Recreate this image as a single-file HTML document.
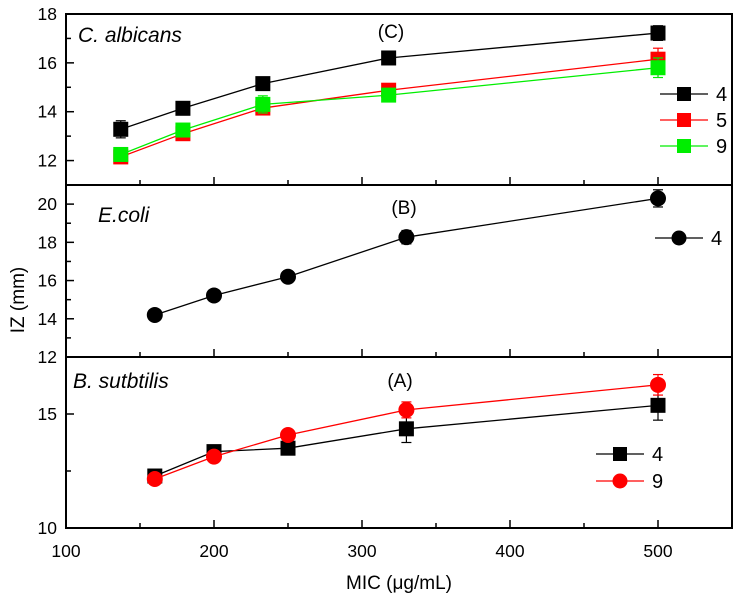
<!DOCTYPE html>
<html><head><meta charset="utf-8"><style>
html,body{margin:0;padding:0;background:#fff;}
svg{display:block;font-family:"Liberation Sans",Arial,sans-serif;}
</style></head><body>
<svg id="chart" width="736" height="600"></svg>
<script>
const xTicks=[100,200,300,400,500];
const cX=[137,179,233,318,500];
const c4=[13.28,14.14,15.15,16.2,17.22];
const c4err=[0.35,0.15,0.15,0.25,0.3];
const c5=[12.15,13.1,14.15,14.88,16.15];
const c5err=[0.2,0.15,0.15,0.2,0.45];
const c9=[12.25,13.25,14.3,14.68,15.8];
const c9err=[0.2,0.15,0.35,0.15,0.4];
const eX=[160,200,250,330,500];
const e4=[14.2,15.22,16.2,18.27,20.3];
const e4err=[0.1,0.1,0.1,0.35,0.45];
const bX=[160,200,250,330,500];
const b4=[12.28,13.35,13.5,14.35,15.38];
const b4err=[0.15,0.2,0.15,0.6,0.65];
const b9=[12.15,13.13,14.08,15.18,16.28];
const b9err=[0.1,0.1,0.15,0.35,0.45];
const topTicks=[12,14,16,18];
const midTicks=[12,14,16,18,20];
const botTicks=[10,15];

const NS="http://www.w3.org/2000/svg";
const svg=document.getElementById('chart');
function mk(t,a,p){const e=document.createElementNS(NS,t);for(const k in a)e.setAttribute(k,a[k]);(p||svg).appendChild(e);return e;}
const X0=66,X1=732;
const xs=v=>X0+(v-100)*(X1-X0)/450;
const panels=[
 {top:14,bot:185,min:11,max:18,ticks:topTicks,minor:1,name:'panel-c'},
 {top:185,bot:357,min:12,max:21,ticks:midTicks,minor:1,name:'panel-b'},
 {top:357,bot:528,min:10,max:17.5,ticks:botTicks,minor:2.5,name:'panel-a'}];
panels.forEach(p=>{p.y=v=>p.bot-(v-p.min)*(p.bot-p.top)/(p.max-p.min);});

panels.forEach((p,i)=>{
 const g=mk('g',{});
 
 
 mk('rect',{x:X0,y:p.top,width:X1-X0,height:p.bot-p.top,fill:'none',stroke:'#000','stroke-width':2},g);
 for(let v=p.min;v<=p.max+1e-6;v+=p.minor){
  const major=p.ticks.some(t=>Math.abs(t-v)<1e-6);
  mk('line',{x1:X0,x2:X0+(major?8:5),y1:p.y(v),y2:p.y(v),stroke:'#000','stroke-width':1.5},g);
 }
 p.ticks.forEach(t=>{
  const tx=mk('text',{x:57,y:p.y(t)+6,'text-anchor':'end','font-size':17.5},g);
  tx.textContent=t;
  
  
 });
 for(let v=150;v<=550;v+=50){
  const major=v%100===0;
  mk('line',{x1:xs(v),x2:xs(v),y1:p.bot,y2:p.bot-(major?8:5),stroke:'#000','stroke-width':1.5},g);
 }
});
xTicks.forEach(t=>{
 const tx=mk('text',{x:xs(t),y:557,'text-anchor':'middle','font-size':17.5});
 tx.textContent=t;
 
 
});

function series(p,xv,yv,ev,color,shape,name){
 const g=mk('g',{});
 
 
 mk('polyline',{points:xv.map((x,i)=>xs(x)+','+p.y(yv[i])).join(' '),fill:'none',stroke:color,'stroke-width':1.3},g);
 xv.forEach((x,i)=>{
  const cx=xs(x),cy=p.y(yv[i]),y1=p.y(yv[i]+ev[i]),y2=p.y(yv[i]-ev[i]);
  mk('line',{x1:cx,x2:cx,y1:y1,y2:y2,stroke:color==='#00ee00'?'#22aa22':color,'stroke-width':1.2},g);
  mk('line',{x1:cx-5,x2:cx+5,y1:y1,y2:y1,stroke:color,'stroke-width':1.2},g);
  mk('line',{x1:cx-5,x2:cx+5,y1:y2,y2:y2,stroke:color,'stroke-width':1.2},g);
  let m;
  if(shape==='sq') m=mk('rect',{x:cx-7.5,y:cy-7.5,width:15,height:15,fill:color},g);
  else m=mk('circle',{cx:cx,cy:cy,r:8,fill:color},g);
  
  
 });
}
const [pc,pb,pa]=panels;
series(pc,cX,c4,c4err,'#000','sq','c-series-4');
series(pc,cX,c5,c5err,'#ff0000','sq','c-series-5');
series(pc,cX,c9,c9err,'#00ee00','sq','c-series-9');
series(pb,eX,e4,e4err,'#000','ci','b-series-4');
series(pa,bX,b4,b4err,'#000','sq','a-series-4');
series(pa,bX,b9,b9err,'#ff0000','ci','a-series-9');

function legend(x1,x2,y,color,shape,label,name){
 const g=mk('g',{});
 
 
 mk('line',{x1:x1,x2:x2,y1:y,y2:y,stroke:color,'stroke-width':1.3},g);
 const cx=(x1+x2)/2;
 if(shape==='sq') mk('rect',{x:cx-7,y:y-7,width:14,height:14,fill:color},g);
 else mk('circle',{cx:cx,cy:y,r:7.5,fill:color},g);
 const t=mk('text',{x:x2+8,y:y+7,'font-size':20},g);t.textContent=label;
}
legend(660,708,94,'#000','sq','4','legend-c-4');
legend(660,708,120,'#ff0000','sq','5','legend-c-5');
legend(660,708,146,'#00ee00','sq','9','legend-c-9');
legend(655,703,238,'#000','ci','4','legend-b-4');
legend(596,644,454,'#000','sq','4','legend-a-4');
legend(596,644,481,'#ff0000','ci','9','legend-a-9');

function txt(x,y,s,attrs,name){const t=mk('text',Object.assign({x:x,y:y},attrs));t.textContent=s;
 
 return t;}
txt(78,42,'C. albicans',{'font-size':21,'font-style':'italic'},'title-c-albicans');
txt(391,38,'(C)',{'font-size':19,'text-anchor':'middle'},'panel-c-label');
txt(98,222,'E.coli',{'font-size':21,'font-style':'italic'},'title-e-coli');
txt(404,214,'(B)',{'font-size':19,'text-anchor':'middle'},'panel-b-label');
txt(73,388,'B. sutbtilis',{'font-size':21,'font-style':'italic'},'title-b-subtilis');
txt(400,387,'(A)',{'font-size':19,'text-anchor':'middle'},'panel-a-label');
txt(0,0,'MIC (\u03bcg/mL)',{'font-size':19,'text-anchor':'middle',transform:'translate(399,589)'},'x-axis-title');
txt(0,0,'IZ (mm)',{'font-size':19,'text-anchor':'middle',transform:'translate(24,300) rotate(-90)'},'y-axis-title');
</script>
</body></html>
